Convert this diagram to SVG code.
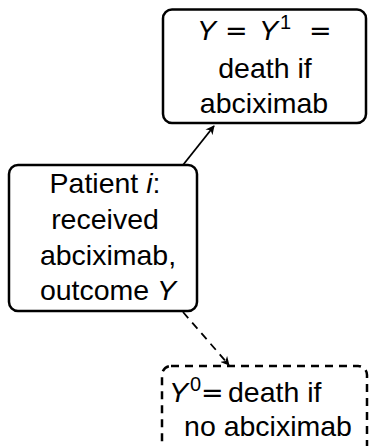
<svg xmlns="http://www.w3.org/2000/svg" width="369" height="446" viewBox="0 0 369 446">
<style>
text{font-family:"Liberation Sans",Arial,sans-serif;font-size:28.5px;fill:#000;text-anchor:middle}
.l{text-anchor:start}
.it{font-style:italic}
.eq{font-family:"DejaVu Sans",sans-serif;font-size:27px}
.sup{font-size:20px}
.box{fill:#fff;stroke:#000;stroke-width:2.5}
.dash{stroke-dasharray:8 6}
.edge{stroke:#000;stroke-width:1.8;fill:none}
</style>
<defs>
<marker id="ah" viewBox="0 0 10 10" refX="9" refY="5" markerWidth="9" markerHeight="9" orient="auto" markerUnits="userSpaceOnUse">
<path d="M0,0 L10,5 L0,10 L3,5 Z" fill="#000"/>
</marker>
</defs>
<rect width="369" height="446" fill="#fff"/>
<g id="connectors">
<line class="edge" x1="183" y1="165" x2="214" y2="126" marker-end="url(#ah)"/>
<line class="edge dash" x1="183" y1="312" x2="229" y2="365" marker-end="url(#ah)"/>
</g>
<g id="node-y1">
<rect class="box" x="163" y="9.5" width="203" height="113.5" rx="9"/>
<text class="l" y="40"><tspan class="it" x="197">Y</tspan><tspan class="eq" x="225">=</tspan><tspan class="it" x="259">Y</tspan><tspan class="sup" x="280" dy="-11">1</tspan><tspan class="eq" x="309" dy="11">=</tspan></text>
<text x="265" y="78">death if</text>
<text x="264" y="113">abciximab</text>
</g>
<g id="node-patient">
<rect class="box" x="9" y="165" width="188" height="146" rx="9"/>
<text x="105" y="193">Patient <tspan class="it">i</tspan>:</text>
<text x="105" y="229">received</text>
<text x="108" y="265">abciximab,</text>
<text x="108" y="300">outcome <tspan class="it">Y</tspan></text>
</g>
<g id="node-y0">
<rect class="box dash" x="162" y="366" width="205" height="95" rx="9"/>
<text class="l" y="402"><tspan class="it" x="169">Y</tspan><tspan class="sup" x="190" dy="-11">0</tspan><tspan class="eq" x="201" dy="11">=</tspan><tspan x="228">death if</tspan></text>
<text x="268" y="436">no abciximab</text>
</g>
</svg>
